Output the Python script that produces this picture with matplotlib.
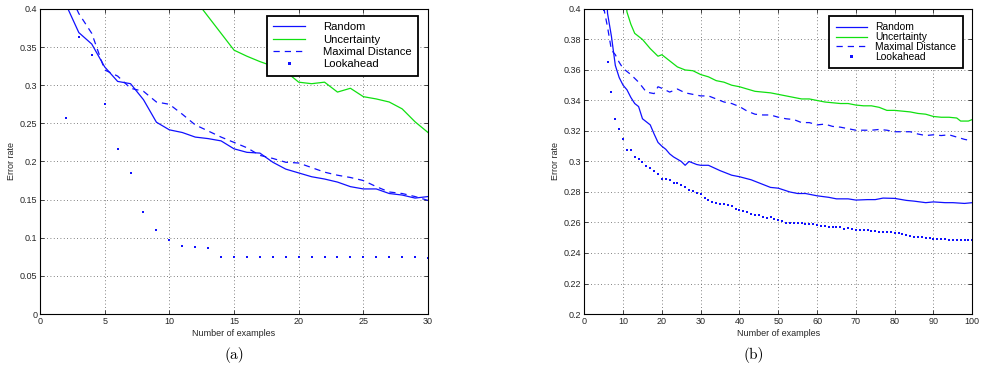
import matplotlib
matplotlib.use("Agg")
import matplotlib.pyplot as plt
from matplotlib.ticker import FormatStrFormatter

plt.rcParams['font.family'] = ['Liberation Sans', 'DejaVu Sans']

BLUE = "#1010ff"
GREEN = "#10e010"

# (a) first 30 examples
x_rand_a = list(range(2, 31))
rand_a = [0.406, 0.369, 0.354, 0.324, 0.305, 0.302, 0.281, 0.2515, 0.2415, 0.238,
          0.232, 0.230, 0.227, 0.2166, 0.212, 0.211, 0.199, 0.190, 0.185, 0.180,
          0.177, 0.173, 0.167, 0.164, 0.164, 0.158, 0.156, 0.152, 0.154]
x_unc_a = list(range(12, 31))
unc_a = [0.412, 0.390, 0.368, 0.346, 0.338, 0.331, 0.325, 0.318, 0.304, 0.302,
         0.304, 0.291, 0.296, 0.285, 0.282, 0.278, 0.269, 0.252, 0.238]
x_maxd_a = list(range(2, 31))
maxd_a = [0.43, 0.394, 0.368, 0.320, 0.312, 0.296, 0.292, 0.278, 0.275, 0.262,
          0.248, 0.240, 0.232, 0.225, 0.218, 0.208, 0.204, 0.199, 0.198, 0.192,
          0.186, 0.182, 0.179, 0.175, 0.167, 0.160, 0.158, 0.154, 0.149]
x_look_a = list(range(2, 31))
look_a = [0.257, 0.363, 0.339, 0.2755, 0.217, 0.185, 0.134, 0.1096, 0.0965, 0.089,
          0.088, 0.087, 0.0742, 0.0742, 0.0742, 0.0742, 0.0742, 0.0742, 0.0742, 0.0742,
          0.0742, 0.0742, 0.0742, 0.0742, 0.0742, 0.0742, 0.0742, 0.0742, 0.0734]

# (b) up to 100 examples
x_rand_b = [5, 6, 7, 8, 9, 10, 11, 12, 13, 14, 15, 16, 17, 18, 19, 20, 21, 22, 23, 24,
            25, 26, 27, 28, 29, 30, 32, 35, 38, 40, 43, 45, 48, 50, 53, 55, 57, 60, 63, 65,
            68, 70, 73, 75, 77, 80, 83, 85, 88, 90, 93, 95, 98, 100]
rand_b = [0.44, 0.397, 0.382, 0.363, 0.355, 0.350, 0.347, 0.342, 0.338, 0.336,
          0.328, 0.326, 0.324, 0.318, 0.3125, 0.310, 0.308, 0.305, 0.303, 0.3015,
          0.300, 0.2975, 0.300, 0.299, 0.298, 0.2975, 0.2975, 0.294, 0.291, 0.290,
          0.288, 0.286, 0.283, 0.2825, 0.280, 0.279, 0.279, 0.2775, 0.2765, 0.2755,
          0.2755, 0.2747, 0.275, 0.275, 0.276, 0.2758, 0.2745, 0.274, 0.273, 0.2735,
          0.273, 0.273, 0.2725, 0.273]
x_unc_b = [10, 11, 12, 13, 15, 17, 19, 20, 22, 24, 26, 28, 30, 32, 34, 36, 38, 40, 42, 44,
           46, 48, 50, 52, 54, 56, 58, 60, 62, 64, 66, 68, 70, 72, 74, 76, 78, 80, 82, 84,
           86, 88, 90, 92, 94, 96, 97, 99, 100]
unc_b = [0.42, 0.398, 0.390, 0.384, 0.380, 0.374, 0.369, 0.370, 0.366, 0.362,
         0.360, 0.3595, 0.357, 0.3555, 0.353, 0.352, 0.350, 0.349, 0.3475, 0.346,
         0.3455, 0.345, 0.344, 0.343, 0.342, 0.341, 0.341, 0.340, 0.339, 0.3385,
         0.338, 0.338, 0.337, 0.3365, 0.3365, 0.3355, 0.3335, 0.3335, 0.333, 0.3325,
         0.3315, 0.331, 0.3295, 0.329, 0.329, 0.3285, 0.3265, 0.3265, 0.3275]
x_maxd_b = [5, 6, 7, 8, 9, 10, 12, 14, 16, 18, 19, 20, 22, 24, 26, 28, 30, 32, 34, 36,
            38, 40, 42, 44, 46, 48, 50, 52, 54, 56, 58, 60, 62, 64, 66, 68, 70, 72, 74, 76,
            78, 80, 82, 84, 86, 88, 90, 92, 94, 96, 98, 100]
maxd_b = [0.401, 0.388, 0.373, 0.370, 0.365, 0.361, 0.357, 0.352, 0.3455, 0.3445,
          0.349, 0.348, 0.3455, 0.3475, 0.345, 0.344, 0.343, 0.343, 0.341, 0.339,
          0.338, 0.336, 0.333, 0.331, 0.3305, 0.3305, 0.329, 0.328, 0.3275, 0.3255,
          0.3255, 0.324, 0.3245, 0.323, 0.3225, 0.3215, 0.3205, 0.3205, 0.3205, 0.321,
          0.3205, 0.3195, 0.3195, 0.3195, 0.318, 0.317, 0.3175, 0.317, 0.3175, 0.316,
          0.3145, 0.3135]
x_look_b = list(range(5, 101))
look_b = [0.399, 0.3655, 0.3456, 0.3277, 0.3215, 0.3146, 0.3075, 0.3075, 0.3027, 0.3016,
          0.2995, 0.2973, 0.2955, 0.2940, 0.2916, 0.2887, 0.2885, 0.2877, 0.2861, 0.2861,
          0.2845, 0.2830, 0.2815, 0.2805, 0.2795, 0.2785, 0.2763, 0.2748, 0.2737, 0.2726,
          0.2722, 0.2720, 0.2716, 0.2706, 0.2689, 0.2682, 0.2676, 0.2668, 0.2657, 0.2650,
          0.2646, 0.2633, 0.2627, 0.2635, 0.2624, 0.2616, 0.2607, 0.2598, 0.2596, 0.2596,
          0.2594, 0.2596, 0.2592, 0.2590, 0.2588, 0.2584, 0.2580, 0.2575, 0.2572, 0.2570,
          0.2568, 0.2568, 0.2559, 0.2564, 0.2557, 0.2553, 0.2551, 0.2551, 0.2549, 0.2544,
          0.2544, 0.2538, 0.2540, 0.2540, 0.2538, 0.2531, 0.2529, 0.2525, 0.2516, 0.2510,
          0.2507, 0.2507, 0.2503, 0.2501, 0.2499, 0.2494, 0.2492, 0.2490, 0.2490, 0.2488,
          0.2486, 0.2486, 0.2486, 0.2486, 0.2484, 0.2484]

labels = ["Random", "Uncertainty", "Maximal Distance", "Lookahead"]


def draw(ax, data, xlim, ylim, xticks, yticks, leg):
    (xr, r), (xu, u), (xm, m), (xl, l) = data
    ax.plot(xr, r, color=BLUE, lw=0.9, label=labels[0])
    ax.plot(xu, u, color=GREEN, lw=0.9, label=labels[1])
    ax.plot(xm, m, color=BLUE, lw=0.9, ls=(0, (5, 4)), label=labels[2])
    ax.plot(xl, l, color=BLUE, ls="none", marker="s", ms=1.8, mew=0, label=labels[3])
    ax.set_xlim(*xlim)
    ax.set_ylim(*ylim)
    ax.set_xticks(xticks)
    ax.set_yticks(yticks)
    ax.yaxis.set_major_formatter(FormatStrFormatter("%g"))
    ax.grid(True, color="0.35", ls=(0, (1, 3)), lw=0.6)
    ax.tick_params(direction="in", length=3, width=0.6, labelsize=6.5,
                   top=True, right=True, pad=2, colors="0.15")
    for s in ax.spines.values():
        s.set_linewidth(0.8)
    ax.set_xlabel("Number of examples", fontsize=6.5, labelpad=2, color="0.15")
    ax.set_ylabel("Error rate", fontsize=6.5, labelpad=3, color="0.15")
    lg = ax.legend(loc="upper right", bbox_to_anchor=(0.975, 0.978), fancybox=False,
                   framealpha=1, edgecolor="black", numpoints=1, markerscale=1.2, **leg)
    lg.get_frame().set_linewidth(1.3)


fig = plt.figure(figsize=(9.81, 3.78), dpi=100)
ax1 = fig.add_axes([0.0408, 0.1693, 0.3955, 0.807])
ax2 = fig.add_axes([0.5956, 0.1693, 0.3955, 0.807])

draw(ax1, [(x_rand_a, rand_a), (x_unc_a, unc_a), (x_maxd_a, maxd_a), (x_look_a, look_a)],
     (0, 30), (0, 0.4), range(0, 31, 5), [i * 0.05 for i in range(9)],
     dict(fontsize=8.1, handlelength=2.8, handletextpad=1.6, labelspacing=0.2,
          borderpad=0.6, borderaxespad=0))
draw(ax2, [(x_rand_b, rand_b), (x_unc_b, unc_b), (x_maxd_b, maxd_b), (x_look_b, look_b)],
     (0, 100), (0.2, 0.4), range(0, 101, 10), [0.2 + i * 0.02 for i in range(11)],
     dict(fontsize=7.4, handlelength=3.0, handletextpad=0.8, labelspacing=-0.02,
          borderpad=0.65, borderaxespad=0))

fig.text(0.2385, 0.06, "(a)", fontfamily="cmr10", fontsize=11, ha="center", va="center")
fig.text(0.7686, 0.06, "(b)", fontfamily="cmr10", fontsize=11, ha="center", va="center")

fig.savefig("out.png", dpi=100)
